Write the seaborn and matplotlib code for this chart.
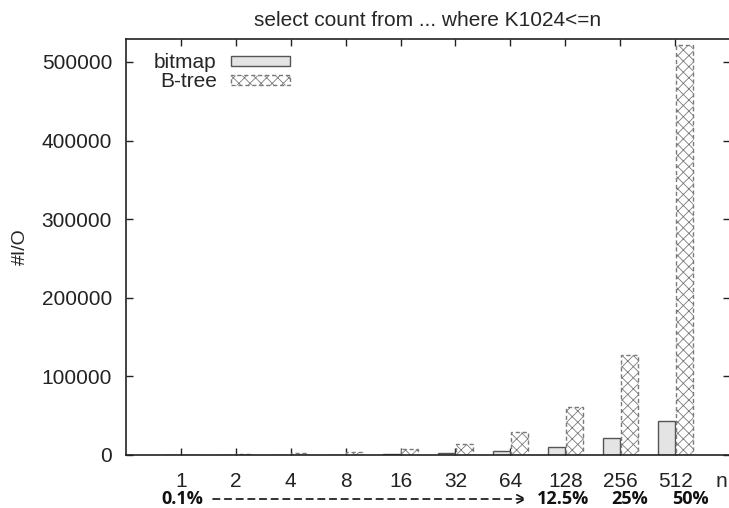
import pandas as pd
import numpy as np
import matplotlib
matplotlib.use("Agg")
import matplotlib.pyplot as plt
import seaborn as sns
from matplotlib.patches import Patch

# values
n_labels = ["1", "2", "4", "8", "16", "32", "64", "128", "256", "512"]
bitmap_io = [80, 150, 300, 600, 1200, 2200, 4700, 9800, 21200, 43400]
btree_io = [500, 1000, 2000, 3500, 7600, 13600, 28900, 60700, 127000, 521000]
index_types = ["bitmap", "B-tree"]
pct_labels = ["0.1%", "12.5%", "25%", "50%"]

df = pd.DataFrame({
    "n": n_labels * 2,
    "io": bitmap_io + btree_io,
    "index": ["bitmap"] * len(n_labels) + ["B-tree"] * len(n_labels),
})

sns.set_style("ticks")
plt.rcParams["font.family"] = ["Liberation Sans", "DejaVu Sans"]
plt.rcParams["hatch.linewidth"] = 0.6

fig = plt.figure(figsize=(7.29, 5.08), dpi=100)
W, H = 729.0, 508.0
ax = fig.add_axes([126 / W, 1 - 455 / H, (730 - 126) / W, (455 - 39) / H])

sns.barplot(data=df, x="n", y="io", hue="index", order=n_labels,
            hue_order=index_types, palette=["#e4e4e4", "white"],
            width=0.66, gap=0.06, ax=ax, legend=False)

for bar in ax.containers[0]:
    bar.set_edgecolor("#555555")
    bar.set_linewidth(1.0)
for bar in ax.containers[1]:
    bar.set_facecolor("white")
    bar.set_edgecolor("#7a7a7a")
    bar.set_hatch("xxx")
    bar.set_linestyle((0, (3, 2)))
    bar.set_linewidth(1.0)

ax.set_xlim(-1, 10)
ax.set_ylim(0, 529262)
ax.set_yticks(np.arange(0, 500001, 100000))
ax.ticklabel_format(axis="y", style="plain")
ax.set_xlabel("")
ax.set_ylabel("#I/O", fontsize=14, labelpad=9)
ax.set_title("select count from ... where K1024<=n", fontsize=15, pad=9.5)

ax.tick_params(direction="in", length=4.7, width=1.0, top=True, right=True,
               labelsize=15, colors="#222222")
ax.tick_params(axis="x", pad=12)
ax.tick_params(axis="y", pad=10)
ax.set_xticks([9.84], ["n"], minor=True)
ax.tick_params(axis="x", which="minor", length=0, pad=12, labelsize=15)
for sp in ax.spines.values():
    sp.set_visible(True)
    sp.set_linewidth(1.2)
    sp.set_color("#222222")

handles = [
    Patch(facecolor="#e4e4e4", edgecolor="#555555", linewidth=1.0),
    Patch(facecolor="white", edgecolor="#7a7a7a", hatch="xxx",
          linestyle=(0, (3, 2)), linewidth=1.0),
]
ax.legend(handles, index_types, loc="upper right",
          bbox_to_anchor=(300 / W, 1 - 43 / H), bbox_transform=fig.transFigure,
          frameon=False, markerfirst=False, fontsize=15, handlelength=2.8,
          handleheight=0.4, handletextpad=0.7, labelspacing=0.0, borderpad=0)

# percentage annotation under the axis
pct_x = [182, 563, 630, 690]
for lab, px in zip(pct_labels, pct_x):
    fig.text(px / W, 1 - 499 / H, lab, ha="center", va="center",
             fontsize=13, fontweight="bold", family="Open Sans", color="#111111")
ax.annotate("", xy=(527 / W, 1 - 499 / H), xytext=(213 / W, 1 - 499 / H),
            xycoords="figure fraction", textcoords="figure fraction",
            arrowprops=dict(arrowstyle="->,head_length=0.6,head_width=0.3",
                            linestyle=(0, (4, 3)), lw=1.2,
                            color="#111111", shrinkA=0, shrinkB=0))

fig.savefig("out.png", dpi=100)
